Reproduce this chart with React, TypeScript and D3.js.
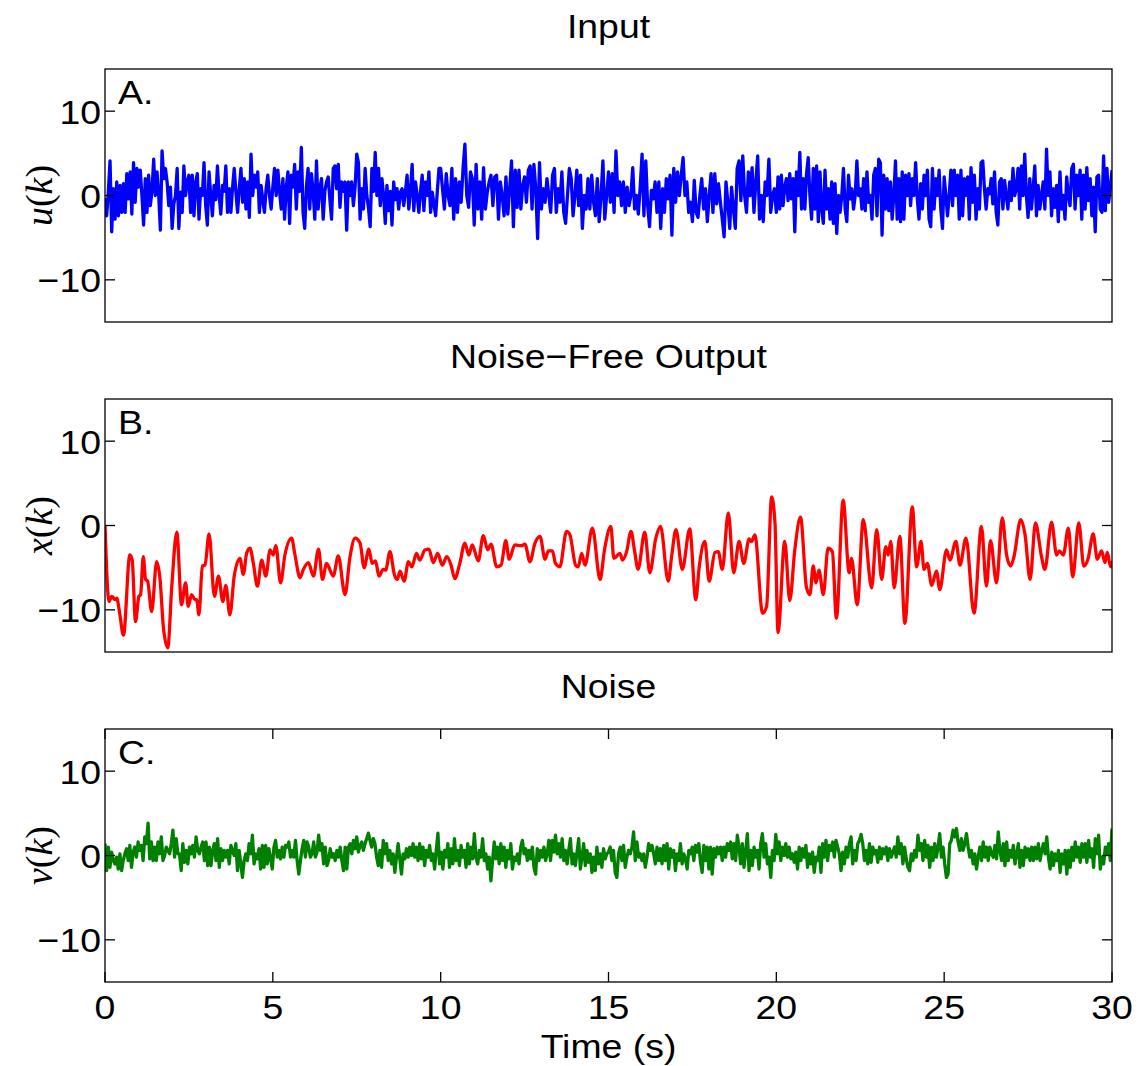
import React from "react";
import * as d3 from "d3";

// ---------- data ----------
const timeTicks = [0, 5, 10, 15, 20, 25, 30];
const yTicks = [-10, 0, 10];
const panelTitles = ["Input", "Noise\u2212Free Output", "Noise"];
const panelLetters = ["A.", "B.", "C."];
const yLabelSymbols = ["u", "x", "v"];

// Input u(k), three 10-second pieces
const uSeg1 = [
  -0.3, -2.4, 0.5, 4.1, -4.3, 0.8, -2.8, 1.6, -2.4, 1.2, -2.0, 1.4, -2.0, 2.6, -0.4, 2.8, -2.2, 3.9, -0.8, 3.2,
  1.0, 3.0, 0.0, -3.5, 2.0, -2.0, 2.4, -1.2, 0.5, 4.3, 0.0, 2.8, 0.0, -4.1, 5.3, 2.0, 3.2, 1.6, -1.2, 1.0,
  -3.9, -1.0, 0.0, 3.2, -3.9, 0.4, -2.0, 3.5, 0.0, 1.6, 2.4, -2.0, 2.4, -2.4, 1.5, 2.6, -2.8, 0.8, 0.0, 3.9,
  -1.2, -3.5, 2.8, 0.0, -2.4, 1.2, -0.5, 3.5, 0.0, -2.2, 1.2, 0.5, 3.5, -2.0, 0.8, -2.0, 1.0, 3.2, 0.4, -2.0,
  0.8, 3.2, -0.8, 2.0, -1.6, 1.6, -2.6, 4.9, 0.0, 2.4, 1.0, 2.8, -2.0, 1.2, -0.5, -2.0, 0.8, 2.4, 0.0, -1.6,
  1.0, 3.2, 0.0, 3.0, 0.5, -1.6, 2.0, -2.8, 1.0, 2.8, -3.3, 2.4, 1.0, 3.7, -1.6, 2.8, 0.5, 5.7, -2.0, -3.9,
  1.0, 3.2, -1.6, 2.6, 0.5, -2.8, 4.1, -1.6, 0.8, 2.0, -2.8, 0.5, 1.6, 2.2, -0.5, -2.8, 3.2, 3.5, 0.8, 3.7,
  -1.4, 1.6, 0.5, 1.6, -4.1, 1.6, 0.0, 1.6, -1.2, 1.0, 4.9, 3.9, -2.8, 0.8, -1.6, 3.2, 0.0, -1.5, -3.7, 3.2,
  0.5, 5.1, 0.0, 3.2, -1.2, 2.0, 0.0, -3.3, 1.2, -1.8, 0.5, -3.5, 1.6, -0.5, 0.8, -1.6, 0.4, 0.8, -1.2, 0.5,
  2.4, -1.6, 0.5, 3.7, -1.8, 1.6, 0.0, -2.0, 0.5, 2.4, -1.8, 1.6, 0.0, 2.8, -2.0, 0.4, -1.0, -2.4, 0.5, 3.2,
];
const uSeg2 = [
  3.2, 0.8, -1.6, 2.6, 0.0, -1.2, 3.2, -2.8, 2.0, -2.0, 1.6, -0.8, 3.2, 6.1, 0.0, -1.4, 2.8, 2.0, -3.5, 3.7,
  -1.6, 1.6, -2.8, 3.3, -1.6, 0.4, 1.6, 2.4, -1.2, 2.2, 2.4, -2.8, 1.6, 0.0, -2.4, 2.2, -2.2, 0.8, 4.1, -3.7,
  3.0, -1.4, 3.0, -1.6, 1.2, 2.2, -0.8, 3.0, 3.5, -1.6, 3.7, 0.8, -5.1, 3.9, -1.6, 0.8, -0.8, 2.0, 0.0, -2.0,
  2.4, 3.2, -2.0, 0.8, -0.8, 2.8, -2.0, -3.3, 0.0, 3.2, 2.0, -2.4, 0.0, 3.0, -1.2, 2.4, -3.9, 0.0, -1.6, 2.0,
  -1.6, 2.4, -0.8, -2.4, 2.0, -3.1, 0.0, 4.1, -2.8, 0.0, 2.8, -0.8, 2.6, -2.0, 5.3, 0.0, 1.6, -1.2, 1.6, -2.0,
  1.0, -1.2, 0.0, 3.3, -1.6, 0.0, -2.2, 1.0, 4.9, -2.4, 4.1, -1.2, -3.7, 0.6, -0.4, 1.6, -2.0, 1.6, -3.9, 0.8,
  -2.0, 2.0, -0.4, 2.4, -4.7, 3.2, -0.8, 2.8, 0.0, 2.4, 4.5, 0.0, 1.6, -2.0, -0.8, -3.1, 1.8, -2.0, -2.6, 0.0,
  2.0, -1.6, 0.8, -3.1, 0.0, 2.6, -2.0, 2.6, -1.0, 1.4, -0.8, -2.8, -4.9, 1.6, -0.8, -3.9, 1.0, -1.6, -3.9, 3.2,
  4.1, -0.6, 4.7, 0.0, -2.0, 2.8, 0.0, 3.3, -2.0, 1.6, 4.7, -2.8, 0.0, -3.1, 1.6, 0.0, 4.3, -2.0, 0.0, 0.8,
];
const uSeg3 = [
  -2.0, 2.2, -1.6, 2.4, -1.2, 1.0, 2.0, -0.6, 2.6, -0.4, 2.0, -4.3, 2.8, 0.0, 5.1, -1.6, 2.0, -1.6, 2.6, 4.5,
  0.0, -2.8, 3.2, -1.6, 3.5, -3.1, 2.8, -1.6, -3.3, 3.0, -1.6, 0.8, -2.8, 1.6, -3.3, 1.4, -4.5, 0.0, -2.0, 0.0,
  3.2, -1.6, -3.1, 2.4, -0.4, 0.8, -1.6, 0.0, 4.1, 0.0, 0.8, -1.6, 2.0, -1.8, 2.8, -0.8, 0.0, -2.8, 2.4, 3.2,
  -2.4, 4.3, 3.9, -4.7, 2.4, -1.6, 2.0, -1.8, 1.6, -2.8, 0.0, 4.1, -2.8, 2.0, -3.1, 2.8, -2.8, 2.4, 0.0, 2.6,
  -1.2, 2.0, 0.0, 3.9, -0.4, -2.8, 1.4, -1.6, 2.4, 0.0, 3.0, -2.8, -3.7, 3.2, -1.6, 2.0, 0.0, 3.0, -1.6, -3.9,
  2.2, 0.0, -2.4, 0.0, 3.0, -1.2, 3.0, 0.0, 2.4, -2.8, 3.0, -2.4, 2.0, 0.0, 2.2, -2.8, 3.3, -0.8, 2.4, -2.8,
  0.8, -1.6, 3.9, 4.1, 0.8, -1.6, 0.8, 0.2, 2.0, -1.0, 2.8, -2.0, -3.5, 1.6, 2.0, -1.6, 1.8, 0.0, -1.6, 1.6,
  -0.6, 3.2, 0.0, 0.8, 3.2, -1.6, 3.5, 0.0, 4.9, 0.0, -2.6, 2.0, -1.6, 0.8, 3.5, -2.4, 1.2, -1.6, 0.0, 1.6,
  -1.6, 5.5, 0.0, 2.8, -2.4, 0.8, -1.4, 1.2, -3.1, 2.8, -1.6, 0.0, -2.8, 2.2, 0.0, -1.2, 3.2, 3.7, -1.6, 2.4,
  0.0, 3.0, -2.8, 2.4, -1.6, 3.3, -0.6, 2.0, -2.4, 1.0, -4.3, 2.2, 2.4, -1.6, -2.0, 4.7, -1.8, 3.2, -0.8, 0.8,
  3.0,
];

// Noise-free output x(k): sample times (s) and values
const xTimes = [
  0, 0.12, 0.2, 0.3, 0.35, 0.43, 0.55, 0.74, 0.81, 0.91, 1.01, 1.06, 1.14, 1.21, 1.27, 1.39, 1.54, 1.64, 1.74, 1.87,
  1.99, 2.14, 2.28, 2.4, 2.48, 2.58, 2.68, 2.73, 2.8, 2.9, 2.98, 3.1, 3.26, 3.38, 3.51, 3.6, 3.72, 3.85, 4.02, 4.12,
  4.22, 4.32, 4.42, 4.54, 4.67, 4.79, 4.92, 5.01, 5.09, 5.23, 5.36, 5.56, 5.66, 5.81, 5.91, 6.06, 6.21, 6.36, 6.48, 6.6,
  6.8, 6.95, 7.15, 7.3, 7.45, 7.6, 7.72, 7.86, 7.96, 8.06, 8.16, 8.29, 8.36, 8.49, 8.62, 8.71, 8.79, 8.91, 9.04, 9.14,
  9.28, 9.38, 9.53, 9.65, 9.78, 9.91, 10.05, 10.18, 10.31, 10.42, 10.57, 10.72, 10.84, 10.94, 11.12, 11.27, 11.4, 11.5, 11.67, 11.8,
  11.94, 12.04, 12.21, 12.41, 12.51, 12.66, 12.81, 12.96, 13.11, 13.21, 13.33, 13.42, 13.55, 13.75, 13.85, 14.02, 14.1, 14.2, 14.3, 14.52,
  14.75, 14.88, 15.07, 15.16, 15.34, 15.42, 15.54, 15.67, 15.78, 15.88, 16.08, 16.23, 16.41, 16.55, 16.78, 16.88, 17.01, 17.2, 17.42, 17.6,
  17.7, 17.87, 18.0, 18.17, 18.27, 18.39, 18.57, 18.73, 18.89, 19.03, 19.19, 19.26, 19.36, 19.59, 19.71, 19.86, 19.96, 20.05, 20.25, 20.4,
  20.55, 20.72, 20.9, 21.0, 21.1, 21.18, 21.27, 21.4, 21.54, 21.67, 21.79, 21.99, 22.17, 22.24, 22.41, 22.59, 22.84, 22.99, 23.14, 23.26,
  23.33, 23.41, 23.51, 23.68, 23.83, 24.05, 24.18, 24.31, 24.4, 24.5, 24.63, 24.77, 24.87, 25.07, 25.17, 25.35, 25.47, 25.65, 25.89, 26.11,
  26.26, 26.38, 26.56, 26.73, 26.86, 26.98, 27.08, 27.28, 27.41, 27.56, 27.72, 27.9, 28.0, 28.2, 28.35, 28.43, 28.55, 28.7, 28.83, 29.01,
  29.16, 29.29, 29.44, 29.56, 29.69, 29.79, 29.86, 29.96, 30.0,
];
const xValues = [
  0, -9.0, -8.4, -8.8, -8.6, -10.2, -13.0, -3.5, -4.1, -11.4, -8.4, -8.2, -3.7, -6.4, -6.6, -10.2, -4.3, -6.4, -12.1, -14.5,
  -7.2, -0.8, -9.4, -6.8, -9.6, -8.2, -8.8, -8.8, -10.6, -4.8, -4.7, -1.0, -8.4, -6.0, -9.0, -7.1, -10.6, -6.0, -3.9, -5.8,
  -3.3, -2.7, -4.5, -7.2, -4.1, -6.0, -2.9, -3.5, -2.4, -6.8, -3.5, -1.5, -3.5, -6.2, -5.2, -4.4, -6.0, -2.8, -6.4, -4.5,
  -6.0, -3.6, -8.2, -3.7, -1.5, -2.1, -5.0, -2.8, -4.5, -4.2, -6.0, -5.2, -5.3, -3.1, -5.8, -6.4, -5.4, -6.6, -4.3, -4.9,
  -3.3, -4.1, -2.9, -2.8, -4.4, -3.3, -4.7, -3.7, -4.7, -6.3, -4.5, -2.1, -3.5, -2.3, -4.2, -1.2, -2.9, -2.2, -4.9, -4.7,
  -1.8, -4.0, -2.3, -2.4, -2.2, -4.3, -2.1, -1.3, -4.0, -3.0, -3.0, -4.5, -4.9, -0.7, -1.1, -4.7, -4.9, -3.3, -4.7, -0.3,
  -6.4, -2.9, -0.1, -3.9, -3.3, -4.1, -3.1, -0.7, -3.1, -5.2, -0.8, -5.6, -1.5, -0.1, -6.6, -3.7, -0.5, -5.2, -0.4, -8.8,
  -5.0, -1.9, -6.6, -3.2, -3.1, -5.2, 1.5, -5.6, -1.9, -4.5, -1.6, -1.9, -1.1, -10.4, -9.6, 3.4, 0.3, -12.7, -1.9, -8.9,
  -2.9, 1.0, -7.4, -8.2, -4.8, -6.8, -5.3, -8.2, -2.7, -3.1, -11.0, 3.0, -5.6, -3.9, -9.4, 0.7, -7.4, -0.5, -6.4, -2.5,
  -3.5, -1.9, -7.4, -1.3, -11.6, 2.2, -4.9, -1.9, -5.2, -4.5, -7.1, -5.4, -7.6, -2.9, -4.1, -1.9, -4.7, -1.5, -10.4, -0.1,
  -7.2, -1.8, -6.8, 0.9, -3.5, -4.8, -3.7, 0.7, -1.1, -6.4, 0.3, -3.7, -5.2, 0.4, -3.5, -3.0, -3.5, -0.3, -6.1, 0.3,
  -4.8, -3.9, -1.0, -4.0, -3.0, -4.4, -3.2, -4.9, -4.2,
];

// Noise v(k), two 15-second pieces
const vSeg1 = [
  1.4, -1.8, 1.0, -1.4, 0.4, -0.6, -1.0, -0.2, -1.6, 0.2, -1.8, -0.6, 0.2, 0.8, -0.6, 1.2, -1.4, 0.4, 1.0, -0.2,
  1.6, 0.6, 1.2, -0.6, 2.2, 1.4, 3.85, -0.4, 1.6, -0.6, 1.0, -0.6, 1.6, 0.2, 2.2, -0.6, 0.0, 1.0, 0.6, 0.2,
  1.4, 3.0, -0.2, 2.0, 0.2, 0.2, -1.8, 1.4, -0.8, 0.6, -1.0, 1.0, 0.2, 1.2, -0.2, 2.2, 0.6, 0.2, 1.0, 1.6,
  -0.6, 1.6, -1.2, 1.0, -1.2, 0.6, 1.4, -0.6, 2.0, -1.4, 0.8, -0.6, 0.6, -0.2, 0.6, -1.0, 1.2, 0.6, 0.0, 1.4,
  -1.8, 0.6, -1.0, -2.6, -0.6, 0.2, -0.6, 1.4, 0.2, 2.4, -1.0, 0.2, -0.4, 0.8, -1.6, 1.2, -1.4, 1.2, -1.0, 0.8,
  -0.4, -1.6, 1.0, 1.8, -0.2, 0.6, -0.4, 1.0, -0.2, 1.2, 1.0, 1.6, -0.2, 0.6, -0.2, 1.8, -0.6, -2.2, -0.6, 0.8,
  1.8, -0.2, 1.6, 1.0, -0.2, 0.2, 1.6, -0.2, 0.4, 2.4, 0.6, 1.4, -1.0, 1.0, -1.2, -0.6, 0.8, -0.2, 0.2, -0.6,
  0.6, -0.2, 1.0, -0.6, -1.8, 1.0, -1.6, 1.0, 1.4, 0.2, 1.8, 0.8, 2.2, 0.4, 1.2, 1.6, 0.6, 1.4, 2.0, 2.65,
  1.8, 1.0, 2.0, 1.4, -0.2, -1.2, 0.6, -1.4, 1.8, 0.2, 1.4, -0.6, 0.6, -1.0, 0.2, -2.0, -0.2, 1.4, -0.4, -2.2,
  0.2, -0.4, 0.8, -0.2, 1.0, 0.0, 1.4, -0.2, 1.0, -0.6, 1.4, -0.4, 1.0, -1.2, 0.6, -0.2, 1.2, -0.6, 0.2, -1.6,
  0.6, 2.65, -1.0, 0.4, -1.6, 0.6, -0.2, 1.4, -1.4, 0.8, -1.0, 2.0, -0.6, 0.6, -1.2, 1.2, -0.2, 0.6, -1.4, 1.4,
  -1.0, 1.0, -0.4, 2.6, -0.2, -1.0, 0.6, -0.2, 2.0, -0.6, 0.2, -1.6, -0.2, -3.0, -0.6, 1.6, -0.4, 1.0, -1.0, 1.4,
  -0.6, 1.0, -1.4, 0.6, -0.4, 1.4, -1.6, -0.2, -0.6, 0.2, -1.0, 1.0, 1.8, 0.2, 0.8, -0.6, 0.6, -0.4, 1.0, -1.4,
  -2.2, 0.8, -0.6, 0.6, -0.2, 1.0, -0.6, 0.2, 1.8, -0.6, 1.8, 0.4, 2.4, 0.2, 1.4, -0.2, 2.0, -0.6, 0.6, -1.0,
  0.6, 2.0, -1.0, 0.2, -1.2, 0.4, 2.0, -1.6, -0.2, 1.4, -1.2, 0.6, -0.8, 0.2, -2.0, -0.2, -1.8, 1.0, -1.0, 0.2,
  -1.4, 0.8, -0.4, 0.2,
];
const vSeg2 = [
  0.4, 1.0, -0.6, 0.6, -2.0, -2.6, 0.2, 1.0, -0.6, 1.2, -1.4, -0.2, 0.6, 0.2, 1.0, 2.8, -0.6, 1.6, -0.2, 0.2,
  -0.6, 0.2, -1.4, -0.2, 1.4, 0.6, 1.2, 0.2, -1.0, 1.0, -0.6, 0.8, -1.0, 1.2, -0.6, 1.4, -1.6, 0.8, -0.2, 0.6,
  -1.8, 0.2, -0.6, 1.4, -1.0, 0.2, -0.4, -1.6, 0.6, 0.2, 1.0, -0.6, 1.2, 0.4, 1.4, -0.8, -2.0, 1.2, -0.6, 1.0,
  -1.6, 1.0, -2.2, 0.8, -0.2, 1.0, 0.2, 1.0, -0.6, 1.0, -0.2, 1.4, 0.6, 1.6, -0.4, 1.4, -0.6, 2.4, 1.0, -1.0,
  1.4, -1.4, 0.4, 2.6, -1.8, 0.6, -1.2, 1.0, -0.2, 0.6, -1.6, 1.4, 2.6, -0.2, 1.4, -1.0, -0.2, -2.6, 0.6, -0.6,
  2.5, 0.2, 1.6, -0.6, 1.0, 0.0, 1.4, -0.2, 1.0, -0.4, 0.2, -0.8, 0.4, -1.6, 1.0, -0.6, 0.8, -0.2, 1.2, -1.4,
  0.2, -1.0, 0.4, -2.0, -0.2, -0.6, 1.0, -2.0, 1.4, -0.2, 1.8, -0.6, 1.2, 0.6, 1.6, -0.2, 1.8, 1.0, 0.2, -1.8,
  0.4, -1.0, 1.0, -0.2, 1.4, 2.2, -1.0, 0.6, -0.6, 1.4, 1.8, 2.5, 1.4, -0.6, 0.6, -1.0, 1.4, -0.8, 1.0, 0.2,
  0.6, -0.8, 1.0, -0.4, 0.8, 0.2, 1.0, -0.6, 0.8, -0.2, 0.4, 1.0, -0.2, 2.2, 0.2, 1.4, -1.0, 1.0, -0.4, -1.4,
  -1.8, 0.2, -0.6, 0.6, -0.2, 2.4, 0.6, 1.4, -0.6, 1.8, -0.2, 1.2, -1.4, 1.0, -0.6, 1.4, -0.2, 1.0, 2.6, -0.2,
  1.0, -1.0, -2.6, -2.2, 1.4, 1.8, 3.0, 2.2, 3.2, 1.6, 0.6, 2.0, 0.6, 1.4, 2.6, 1.0, -0.2, 0.6, -1.0, 0.2,
  -1.6, -0.2, 1.0, -0.6, 1.6, -0.2, 1.0, -0.6, 1.0, 0.2, -0.2, 1.2, -0.4, 2.8, 0.6, -0.6, 1.4, -1.2, 1.6, -0.6,
  0.6, -0.2, 1.2, -1.0, 0.2, 1.4, -1.4, 0.6, -1.2, 1.0, -0.2, 0.8, -0.6, 1.0, -0.6, 1.0, -0.4, 1.4, -0.6, 0.6,
  1.4, 0.2, 2.2, -0.2, -1.6, 0.4, -1.2, 0.2, -0.6, 0.6, -2.0, 0.2, -1.0, 0.6, -2.2, 0.6, -1.4, 1.0, -0.6, 1.6,
  -0.2, 1.0, -0.8, 1.4, -0.2, 1.4, -0.8, 1.8, -0.2, 0.8, -1.4, 2.0, 0.2, 2.4, -1.6, -0.2, -1.0, 1.0, 0.2, 1.4,
  -0.6, 3.2,
];

// ---------- layout ----------
const W = 1140;
const H = 1066;
const AX_LEFT = 105;
const AX_RIGHT = 1112;
const PANEL_TOPS = [69, 399, 729];
const PANEL_H = 253;
const FONT = "'Liberation Sans', Arial, Helvetica, sans-serif";
const FS = 34;
const SX = 1.1;
const TICK = 10;
const COLORS = ["#0000ff", "#ff0000", "#008000"];

type Pt = [number, number];

function segmentsToPoints(segs: number[][], spans: number[][]): Pt[] {
  const out: Pt[] = [];
  segs.forEach((seg, k) => {
    const [a, b] = spans[k];
    const last = k === segs.length - 1;
    const step = (b - a) / (last ? seg.length - 1 : seg.length);
    seg.forEach((v, j) => out.push([a + j * step, v]));
  });
  return out;
}

const uPoints = segmentsToPoints([uSeg1, uSeg2, uSeg3], [[0, 10], [10, 20], [20, 30]]);
const xPoints: Pt[] = xTimes.map((t, i) => [t, xValues[i]]);
const vPoints = segmentsToPoints([vSeg1, vSeg2], [[0, 15], [15, 30]]);
const series: Pt[][] = [uPoints, xPoints, vPoints];

function SText(props: { x: number; y: number; anchor?: string; size?: number; children: React.ReactNode }) {
  const { x, y, anchor = "start", size = FS, children } = props;
  return (
    <text
      transform={`translate(${x},${y}) scale(${SX},1)`}
      textAnchor={anchor}
      fontFamily={FONT}
      fontSize={size}
      fill="#000"
    >
      {children}
    </text>
  );
}

export default function App() {
  const xs = d3.scaleLinear().domain([0, 30]).range([AX_LEFT, AX_RIGHT]);

  return (
    <svg width={W} height={H} style={{ display: "block", position: "absolute", left: 0, top: 0, background: "#fff" }}>
      <rect x={0} y={0} width={W} height={H} fill="#fff" />
      <defs>
        {PANEL_TOPS.map((top, p) => (
          <clipPath id={`clip${p}`} key={p}>
            <rect x={AX_LEFT} y={top} width={AX_RIGHT - AX_LEFT} height={PANEL_H} />
          </clipPath>
        ))}
      </defs>
      {PANEL_TOPS.map((top, p) => {
        const bottom = top + PANEL_H;
        const ys = d3.scaleLinear().domain([-15, 15]).range([bottom, top]);
        const line = d3
          .line<Pt>()
          .x((d) => xs(d[0]))
          .y((d) => ys(d[1]))
          .curve(p === 1 ? d3.curveMonotoneX : d3.curveLinear);
        const midY = (top + bottom) / 2;
        return (
          <g key={p}>
            <path
              d={line(series[p]) || ""}
              fill="none"
              stroke={COLORS[p]}
              strokeWidth={3.3}
              strokeLinejoin="round"
              clipPath={`url(#clip${p})`}
            />
            <rect x={AX_LEFT} y={top} width={AX_RIGHT - AX_LEFT} height={PANEL_H} fill="none" stroke="#000" strokeWidth={1.3} />
            {yTicks.map((t) => (
              <g key={t}>
                <line x1={AX_LEFT} x2={AX_LEFT + TICK} y1={ys(t)} y2={ys(t)} stroke="#000" strokeWidth={1.3} />
                <line x1={AX_RIGHT} x2={AX_RIGHT - TICK} y1={ys(t)} y2={ys(t)} stroke="#000" strokeWidth={1.3} />
                <SText x={AX_LEFT - 4} y={ys(t) + 12.5} anchor="end">
                  {t < 0 ? `\u2212${Math.abs(t)}` : `${t}`}
                </SText>
              </g>
            ))}
            {p === 2 &&
              timeTicks.map((t) => (
                <g key={t}>
                  <line x1={xs(t)} x2={xs(t)} y1={bottom} y2={bottom - TICK} stroke="#000" strokeWidth={1.3} />
                  <line x1={xs(t)} x2={xs(t)} y1={top} y2={top + TICK} stroke="#000" strokeWidth={1.3} />
                  <SText x={xs(t)} y={bottom + 37} anchor="middle">
                    {t}
                  </SText>
                </g>
              ))}
            <SText x={(AX_LEFT + AX_RIGHT) / 2} y={top - 31} anchor="middle">
              {panelTitles[p]}
            </SText>
            <SText x={118} y={top + 35}>
              {panelLetters[p]}
            </SText>
            <text
              transform={`translate(52,${midY}) rotate(-90)`}
              textAnchor="middle"
              fontFamily="'Liberation Serif', 'Times New Roman', serif"
              fontSize={38}
              fill="#000"
            >
              <tspan fontStyle="italic">{yLabelSymbols[p]}</tspan>
              <tspan>(</tspan>
              <tspan fontStyle="italic">k</tspan>
              <tspan>)</tspan>
            </text>
          </g>
        );
      })}
      <SText x={(AX_LEFT + AX_RIGHT) / 2} y={1058} anchor="middle">
        Time (s)
      </SText>
    </svg>
  );
}
